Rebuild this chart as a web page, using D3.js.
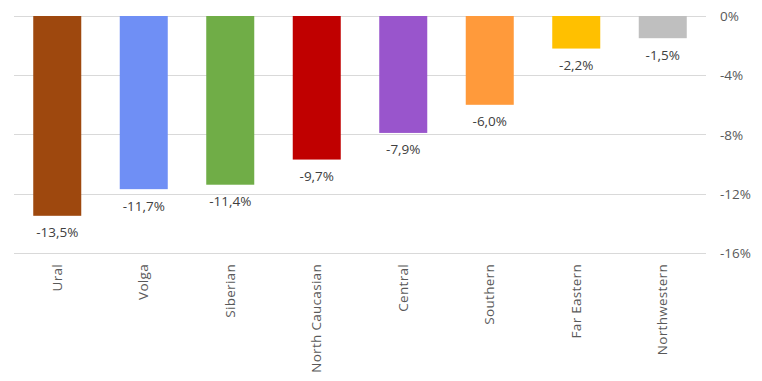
<!DOCTYPE html>
<html><head><meta charset="utf-8">
<script src="https://cdn.jsdelivr.net/npm/d3@7"></script>
<style>body{margin:0;background:#fff}svg{display:block}text{font-family:"Open Sans","Noto Sans",sans-serif}</style>
</head><body><svg id="c" width="762" height="381"></svg>
<script>
const categories = ["Ural","Volga","Siberian","North Caucasian","Central","Southern","Far Eastern","Northwestern"];
const values = [-13.5,-11.7,-11.4,-9.7,-7.9,-6.0,-2.2,-1.5];
const colors = ["#9E480E","#6F8FF5","#70AD47","#C00000","#9955CC","#FF9A3B","#FFC000","#BFBFBF"];
const tickValues = [0,-4,-8,-12,-16];

(function(){
const svg = d3.select("#c");
const pl = 14, pr = 706, pt = 16, pb = 252.8;
const x = d3.scaleBand().domain(categories).range([pl, pr]).paddingInner(0.445).paddingOuter(0.2225);
const y = d3.scaleLinear().domain([0,-16]).range([pt, pb]);

// gridlines
svg.append("g").selectAll("line").data(tickValues).join("line")
  .attr("x1", pl).attr("x2", pr)
  .attr("y1", d=>Math.round(y(d))+0.5).attr("y2", d=>Math.round(y(d))+0.5)
  .attr("stroke", "#d9d9d9").attr("stroke-width", 1);

// right axis
const ax = d3.axisRight(y).tickValues(tickValues).tickSize(0).tickPadding(0).tickFormat(d=>d+"%");
const axg = svg.append("g").attr("transform", "translate(720,0)").call(ax);
axg.select(".domain").remove();
axg.selectAll("text").attr("fill","#595959").style("font-size","13.5px").style("font-family",null).attr("dy","0.35em");

// bars
svg.append("g").selectAll("rect").data(values).join("rect")
  .attr("x", (d,i)=>x(categories[i])).attr("width", x.bandwidth())
  .attr("y", y(0)).attr("height", d=>y(d)-y(0))
  .attr("fill", (d,i)=>colors[i]);

// labels
svg.append("g").selectAll("text").data(values).join("text")
  .attr("x", (d,i)=>x(categories[i])+x.bandwidth()/2)
  .attr("y", d=>y(d)+21.5)
  .attr("text-anchor","middle").attr("fill","#404040").style("font-size","13.5px")
  .text(d=>d3.format(".1f")(d).replace(".",",").replace("\u2212","-")+"%");

// category labels
svg.append("g").selectAll("text").data(categories).join("text")
  .attr("transform", d=>`translate(${x(d)+x.bandwidth()/2+4.5},264) rotate(-90)`)
  .attr("text-anchor","end").attr("fill","#595959").style("font-size","13.5px").style("letter-spacing","0.3px")
  .text(d=>d);
})();
</script></body></html>
